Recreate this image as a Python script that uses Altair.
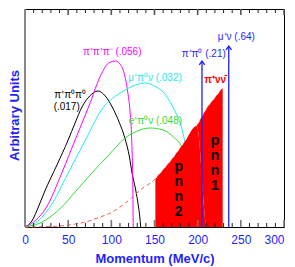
import altair as alt
import pandas as pd

# ---- data ----
# K+ -> pi+ pi0 pi0  (black)
k3pi00_p = [0, 8, 15.5, 23, 37, 50, 58, 66, 75, 84.5, 93, 101, 109, 116, 121, 124, 128, 131.5, 133, 134]
k3pi00_h = [0, 6, 20, 36, 62, 87, 104, 120, 131, 136, 131, 120, 105, 88, 70, 54, 38, 20, 10, 0]
# K+ -> pi+ pi+ pi-  (magenta)
k3pi_p = [0, 10, 25, 42.6, 58, 73.6, 89, 97, 105, 110, 115, 119, 122, 123.5, 124.5, 125, 125.3]
k3pi_h = [0, 5, 20, 54, 87, 120, 154, 164, 166, 163, 153, 135, 112, 90, 60, 35, 0]
# K+ -> mu+ pi0 nu  (cyan)
kmu3_p = [0, 10, 29, 50, 70, 91, 105, 116, 128, 139.5, 150, 161, 170, 176, 180, 184, 190, 198, 205, 211]
kmu3_h = [0, 3, 20, 54, 87, 120, 131, 137, 142, 144, 141, 134, 122, 112, 104, 90, 68, 32, 14, 0]
# K+ -> e+ pi0 nu  (green)
ke3_p = [0, 20, 42.6, 58, 77.5, 97, 116, 130, 145, 160, 172, 182, 190, 198, 205, 211, 220, 228]
ke3_h = [0, 5, 20, 35, 54, 72, 89, 96, 99, 97, 90, 80, 62, 42, 32, 26, 14, 0]
# K+ -> pi+ nu nubar  (red dashed)
pnn_p = [0, 20, 40, 55, 70, 87, 99, 110, 122, 135, 151, 160, 172.5, 185, 199, 205, 211, 220, 229]
pnn_h = [0, 0.3, 1, 2.5, 5, 10, 14, 20, 28, 38, 48, 57, 70, 85, 101, 110, 119, 129, 139]
# signal regions
region_names = ["pnn2", "pnn1"]
region_lo = [151, 211]
region_hi = [199, 229]
region_text = ["p\nn\nn\n2", "p\nn\nn\n1"]
region_text_p = [178, 220]
region_text_h = [60, 86]
# two-body peaks (arrows)
peak_p = [205, 236]
peak_h = [166, 181]
# curve labels
lab_text = ["π⁺π⁰π⁰", "(.017)", "π⁺π⁺π⁻  (.056)", "μ⁺π⁰ν  (.032)", "e⁺π⁰ν  (.048)",
            "π⁺π⁰  (.21)", "μ⁺ν  (.64)"]
lab_p = [52.3, 48.3, 101, 150.6, 151, 207, 244.8]
lab_h = [132, 120, 175, 149, 106, 173, 190]
lab_col = ["#000000", "#000000", "#ff00ff", "#22eeee", "#33dd33", "#1f1fff", "#1f1fff"]
red_lab_text = ["π⁺νν̄"]
red_lab_p = [220.3]
red_lab_h = [147]
# axis ticks
major_ticks = [0, 50, 100, 150, 200, 250, 300]
minor_ticks = [v for v in range(10, 300, 10) if v % 50 != 0]

W, H = 259, 218
FONT = "Liberation Sans"
BLUE = "#1f1fff"

xs = alt.Scale(domain=[0, 300], nice=False, zero=False)
ys = alt.Scale(domain=[0, H], nice=False, zero=False)


def curve_df(p, h):
    return pd.DataFrame({"p": p, "h": h})


def line(p, h, color, **kw):
    return alt.Chart(curve_df(p, h)).mark_line(color=color, strokeWidth=1,
                                               interpolate="monotone", **kw).encode(
        x=alt.X("p:Q", scale=xs), y=alt.Y("h:Q", scale=ys))


xaxis = alt.Axis(values=major_ticks, ticks=False, tickSize=0, domain=False, grid=False,
                 labelColor=BLUE, labelFont=FONT, labelFontSize=12, labelPadding=7,
                 labelAlign={"condition": {"test": "datum.value == 300", "value": "right"},
                             "value": "center"},
                 title="Momentum (MeV/c)", titleColor=BLUE, titleFont=FONT, titleFontSize=13,
                 titleFontWeight="bold", titleBaseline="alphabetic", titleY=35)
yaxis = alt.Axis(labels=False, ticks=False, domain=False, grid=False,
                 title="Arbitrary Units", titleColor=BLUE, titleFont=FONT, titleFontSize=13,
                 titleFontWeight="bold", titleBaseline="alphabetic", titleX=-7, titleY=106)

base_axes = alt.Chart(curve_df([0], [0])).mark_point(opacity=0).encode(
    x=alt.X("p:Q", scale=xs, axis=xaxis), y=alt.Y("h:Q", scale=ys, axis=yaxis))

l_black = line(k3pi00_p, k3pi00_h, "#000000")
l_mag = line(k3pi_p, k3pi_h, "#ff00ff")
l_cyan = line(kmu3_p, kmu3_h, "#22eeee")
l_green = line(ke3_p, ke3_h, "#33dd33")
l_pnn = line(pnn_p, pnn_h, "#ff5a5a", strokeDash=[4, 3])

rows = []
for name, lo, hi in zip(region_names, region_lo, region_hi):
    for p, h in zip(pnn_p, pnn_h):
        if lo <= p <= hi:
            rows.append({"p": p, "h": h, "region": name})
fill = alt.Chart(pd.DataFrame(rows)).mark_area(color="#ff0000", opacity=1,
                                               interpolate="monotone").encode(
    x=alt.X("p:Q", scale=xs), y=alt.Y("h:Q", scale=ys), detail="region:N")

reg_txt = alt.Chart(pd.DataFrame({"t": region_text, "p": region_text_p, "h": region_text_h})).mark_text(
    font=FONT, fontSize=14, fontWeight="bold", color="#000000", lineBreak="\n", lineHeight=15,
    baseline="middle", align="center").encode(
    x=alt.X("p:Q", scale=xs), y=alt.Y("h:Q", scale=ys), text="t:N")

peaks = pd.DataFrame({"p": peak_p, "h": peak_h, "z": [0, 0]})
arrows = alt.Chart(peaks).mark_rule(color=BLUE, strokeWidth=1.3).encode(
    x=alt.X("p:Q", scale=xs), y=alt.Y("z:Q", scale=ys), y2="h:Q")
heads = alt.Chart(peaks).mark_point(shape="M-1,1.4L0,0L1,1.4", size=30, filled=False,
                                    color=BLUE, strokeWidth=1.3, opacity=1).encode(
    x=alt.X("p:Q", scale=xs), y=alt.Y("h:Q", scale=ys))

labels = alt.Chart(pd.DataFrame({"t": lab_text, "p": lab_p, "h": lab_h, "c": lab_col})).mark_text(
    font=FONT, fontSize=10, baseline="middle", align="center").encode(
    x=alt.X("p:Q", scale=xs), y=alt.Y("h:Q", scale=ys), text="t:N",
    color=alt.Color("c:N", scale=None))
red_lab = alt.Chart(pd.DataFrame({"t": red_lab_text, "p": red_lab_p, "h": red_lab_h})).mark_text(
    font=FONT, fontSize=10, fontWeight="bold", color="#ff0000", baseline="middle", align="center").encode(
    x=alt.X("p:Q", scale=xs), y=alt.Y("h:Q", scale=ys), text="t:N")

maj = pd.DataFrame({"p": major_ticks})
mnr = pd.DataFrame({"p": minor_ticks})
t_bot_maj = alt.Chart(maj).mark_rule(color="#777777", strokeWidth=1.6).encode(
    x=alt.X("p:Q", scale=xs), y=alt.value(H), y2=alt.value(H - 7))
t_bot_min = alt.Chart(mnr).mark_rule(color="#222222", strokeWidth=1).encode(
    x=alt.X("p:Q", scale=xs), y=alt.value(H), y2=alt.value(H - 4))
t_top_maj = alt.Chart(maj).mark_rule(color="#555555", strokeWidth=1.6).encode(
    x=alt.X("p:Q", scale=xs), y=alt.value(0), y2=alt.value(6))
t_top_min = alt.Chart(mnr).mark_rule(color="#222222", strokeWidth=1).encode(
    x=alt.X("p:Q", scale=xs), y=alt.value(0), y2=alt.value(4))
left_edge = alt.Chart(pd.DataFrame({"p": [0]})).mark_rule(color="#888888", strokeWidth=2).encode(
    x=alt.X("p:Q", scale=xs), y=alt.value(0), y2=alt.value(H))

chart = alt.layer(
    base_axes, l_black, l_mag, l_cyan, l_green, l_pnn, fill, reg_txt, arrows, heads,
    labels, red_lab, t_bot_maj, t_bot_min, t_top_maj, t_top_min, left_edge
).properties(
    width=W, height=H, autosize=alt.AutoSizeParams(type="none"),
    padding={"left": 17, "top": 1, "right": 3, "bottom": 40},
    background="white"
).configure_view(stroke="#000000", strokeWidth=1)

chart.save("out.html", embed_options={"renderer": "svg", "actions": False})
